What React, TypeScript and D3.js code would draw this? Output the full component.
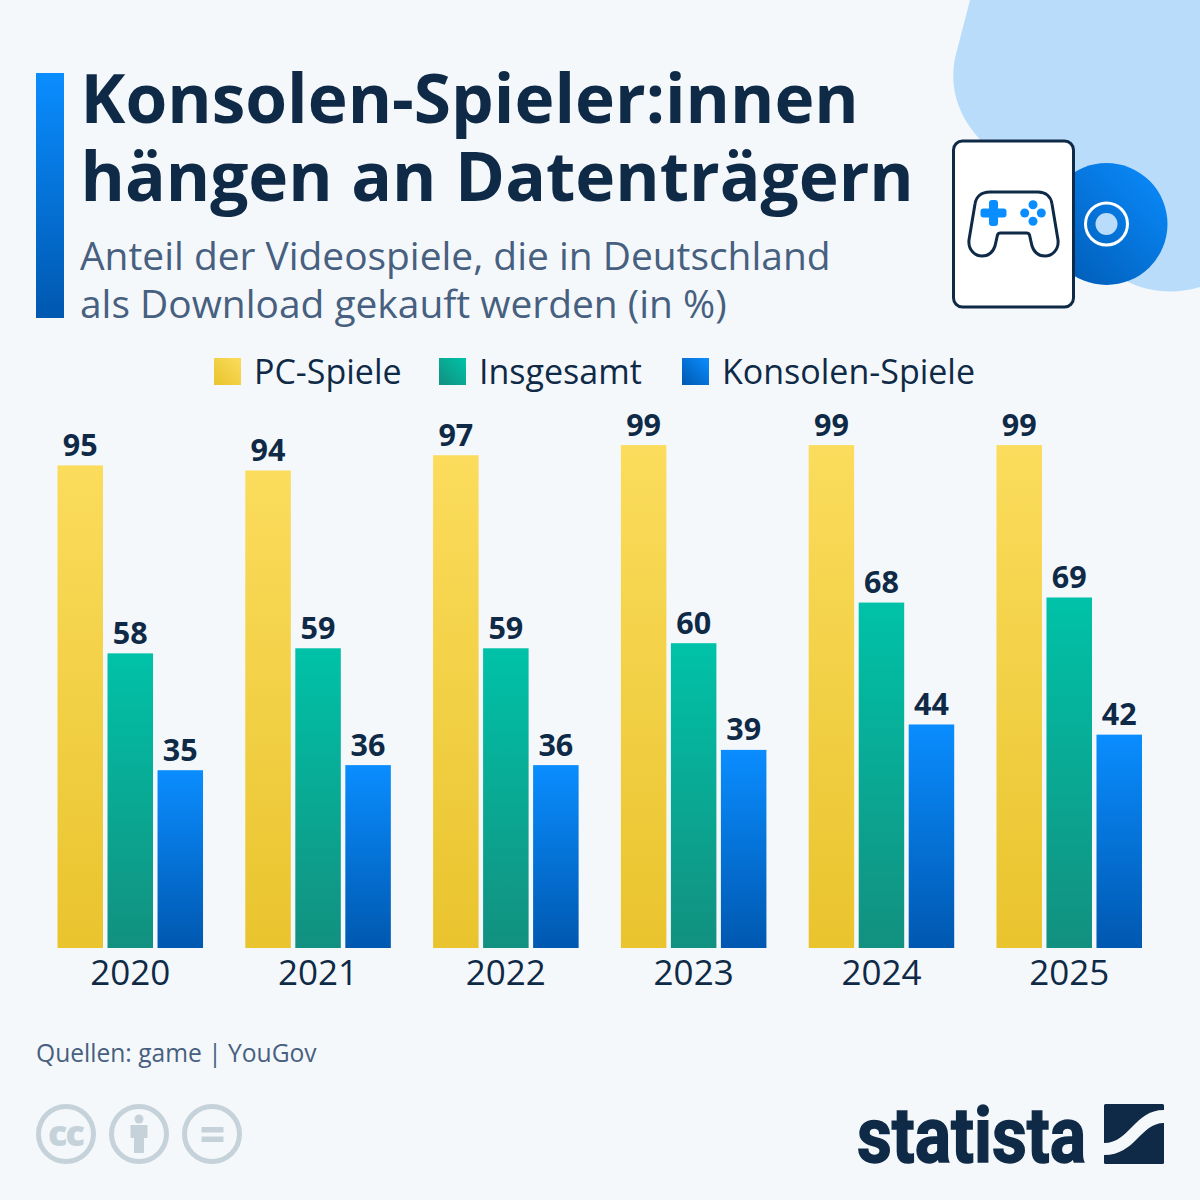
import * as d3 from 'd3';

const years = ['2020', '2021', '2022', '2023', '2024', '2025'];
const seriesNames = ['PC-Spiele', 'Insgesamt', 'Konsolen-Spiele'];
const pcValues = [95, 94, 97, 99, 99, 99];
const totalValues = [58, 59, 59, 60, 68, 69];
const consoleValues = [35, 36, 36, 39, 44, 42];
const seriesValues = [pcValues, totalValues, consoleValues];

const titleLines = ['Konsolen-Spieler:innen', 'hängen an Datenträgern'];
const subtitleLines = ['Anteil der Videospiele, die in Deutschland', 'als Download gekauft werden (in %)'];
const sourceText = 'Quellen: game | YouGov';

const NAVY = '#0f2a47';
const SLATE = '#47607f';
const BG = '#f5f8fb';
const BLOB = '#badcfb';
const ICON_GREY = '#c5d2da';
const GRADIENTS = [
  { id: 'grad-pc', top: '#fbdc5c', bottom: '#e9c42e' },
  { id: 'grad-total', top: '#00c2a8', bottom: '#12907f' },
  { id: 'grad-console', top: '#0a8dff', bottom: '#0058b0' },
];
const FONT = '"Open Sans", "Noto Sans", sans-serif';

const BASELINE = 948;
const x0 = d3.scaleBand<string>().domain(years).range([57.5, 1142]).paddingInner(0.225);
const x1 = d3.scaleBand<number>().domain([0, 1, 2]).range([0, x0.bandwidth()]).paddingInner(0.09);
const y = d3.scaleLinear().domain([0, 100]).range([BASELINE, 440]);

const legendSwatchX = [214, 439, 682];

const blobPath = 'M970,0 L955,58 C950,85 955,115 985,145 L1125,280 C1145,292 1175,295 1200,287 L1200,0 Z';
const padPath = 'M990,192 L1038,192 C1046,192 1051,197 1052,204 L1058,240 C1059,250 1052,256 1045,256 C1038,256 1034,252 1032,246 L1029.5,235 C1029,233.5 1028,233 1026.5,233 L1000.5,233 C999,233 998,233.5 997.5,235 L995,246 C993,252 989,256 982,256 C975,256 968,250 969,240 L975,204 C976,197 981,192 990,192 Z';
const swooshPath = 'M1104,1143 C1130,1143 1134,1110 1164,1110 L1164,1123 C1140,1123 1136,1155 1104,1155 Z';

export default function App() {
  return (
    <svg
      width={1200}
      height={1200}
      viewBox="0 0 1200 1200"
      style={{ position: 'absolute', left: 0, top: 0, background: BG, fontFamily: FONT }}
    >
      <defs>
        {GRADIENTS.map(g => (
          <linearGradient key={g.id} id={g.id} x1="0" y1="0" x2="0" y2="1">
            <stop offset="0" stopColor={g.top} />
            <stop offset="1" stopColor={g.bottom} />
          </linearGradient>
        ))}
        {GRADIENTS.map(g => (
          <linearGradient key={g.id} id={g.id + '-swatch'} x1="1" y1="0" x2="0" y2="1">
            <stop offset="0" stopColor={g.top} />
            <stop offset="1" stopColor={g.bottom} />
          </linearGradient>
        ))}
      </defs>

      <path d={blobPath} fill={BLOB} />

      {/* header */}
      <rect x={36} y={73} width={28} height={245} fill="url(#grad-console)" />
      {titleLines.map((line, i) => (
        <text key={line} x={80.5} y={123 + i * 78} fontSize={67.6} fontWeight={700} wordSpacing={1} fill={NAVY}>{line}</text>
      ))}
      {subtitleLines.map((line, i) => (
        <text key={line} x={80} y={270 + i * 48} fontSize={38.9} fill={SLATE}>{line}</text>
      ))}

      {/* disc and game case */}
      <circle cx={1106.5} cy={224} r={61} fill="url(#grad-console-swatch)" />
      <circle cx={1106.5} cy={224} r={21} fill="none" stroke="#fff" strokeWidth={3} />
      <circle cx={1106.5} cy={224} r={11} fill={BLOB} />
      <rect x={953.5} y={141} width={120} height={166} rx={9} fill="#fff" stroke={NAVY} strokeWidth={3} />
      <path d={padPath} fill="#fff" stroke={NAVY} strokeWidth={3} />
      <rect x={980.5} y={208.5} width={26} height={9} rx={3} fill="#0a8dff" />
      <rect x={989} y={200} width={9} height={26} rx={3} fill="#0a8dff" />
      {[[0, -8.3], [8.3, 0], [0, 8.3], [-8.3, 0]].map(([dx, dy]) => (
        <circle key={`${dx}-${dy}`} cx={1033 + dx} cy={213 + dy} r={4.5} fill="#0a8dff" />
      ))}

      {/* legend */}
      {seriesNames.map((name, i) => (
        <g key={name}>
          <rect x={legendSwatchX[i]} y={358} width={27} height={27} fill={`url(#${GRADIENTS[i].id}-swatch)`} />
          <text x={legendSwatchX[i] + 40} y={384} fontSize={34} fill={NAVY}>{name}</text>
        </g>
      ))}

      {/* bars */}
      {years.map((year, yi) => (
        <g key={year} transform={`translate(${x0(year)},0)`}>
          {seriesValues.map((values, si) => (
            <g key={si}>
              <rect
                x={x1(si)}
                y={y(values[yi])}
                width={x1.bandwidth()}
                height={BASELINE - y(values[yi])}
                fill={`url(#${GRADIENTS[si].id})`}
              />
              <text
                x={(x1(si) ?? 0) + x1.bandwidth() / 2}
                y={y(values[yi]) - 9.5}
                textAnchor="middle"
                fontSize={30.5}
                fontWeight={700}
                fill={NAVY}
              >
                {values[yi]}
              </text>
            </g>
          ))}
          <text x={x0.bandwidth() / 2} y={984.5} textAnchor="middle" fontSize={35} fill={NAVY}>{year}</text>
        </g>
      ))}

      {/* footer */}
      <text x={36} y={1062} fontSize={24.6} fill={SLATE}>{sourceText}</text>

      {[66, 139, 212].map(cx => (
        <circle key={cx} cx={cx} cy={1134} r={27.5} fill="none" stroke={ICON_GREY} strokeWidth={5} />
      ))}
      <text x={65.5} y={1146} textAnchor="middle" fontSize={36} fontWeight={800} fill={ICON_GREY} letterSpacing={-2}>cc</text>
      <circle cx={139} cy={1119} r={4.5} fill={ICON_GREY} />
      <path d="M130.5,1125 L147.5,1125 L147.5,1138 L144,1138 L144,1153 L134,1153 L134,1138 L130.5,1138 Z" fill={ICON_GREY} />
      <rect x={201.5} y={1127} width={22} height={5.5} fill={ICON_GREY} />
      <rect x={201.5} y={1136.5} width={22} height={5.5} fill={ICON_GREY} />

      {/* logo */}
      <text
        x={857}
        y={1162}
        fontSize={78}
        fontWeight={700}
        fill={NAVY}
        stroke={NAVY}
        strokeWidth={1.5}
        textLength={229}
        lengthAdjust="spacingAndGlyphs"
        style={{ fontFamily: '"Liberation Sans Narrow", "Roboto", sans-serif' }}
      >
        statista
      </text>
      <rect x={1104} y={1104} width={60} height={60} rx={1.5} fill={NAVY} />
      <path d={swooshPath} fill={BG} />
    </svg>
  );
}
